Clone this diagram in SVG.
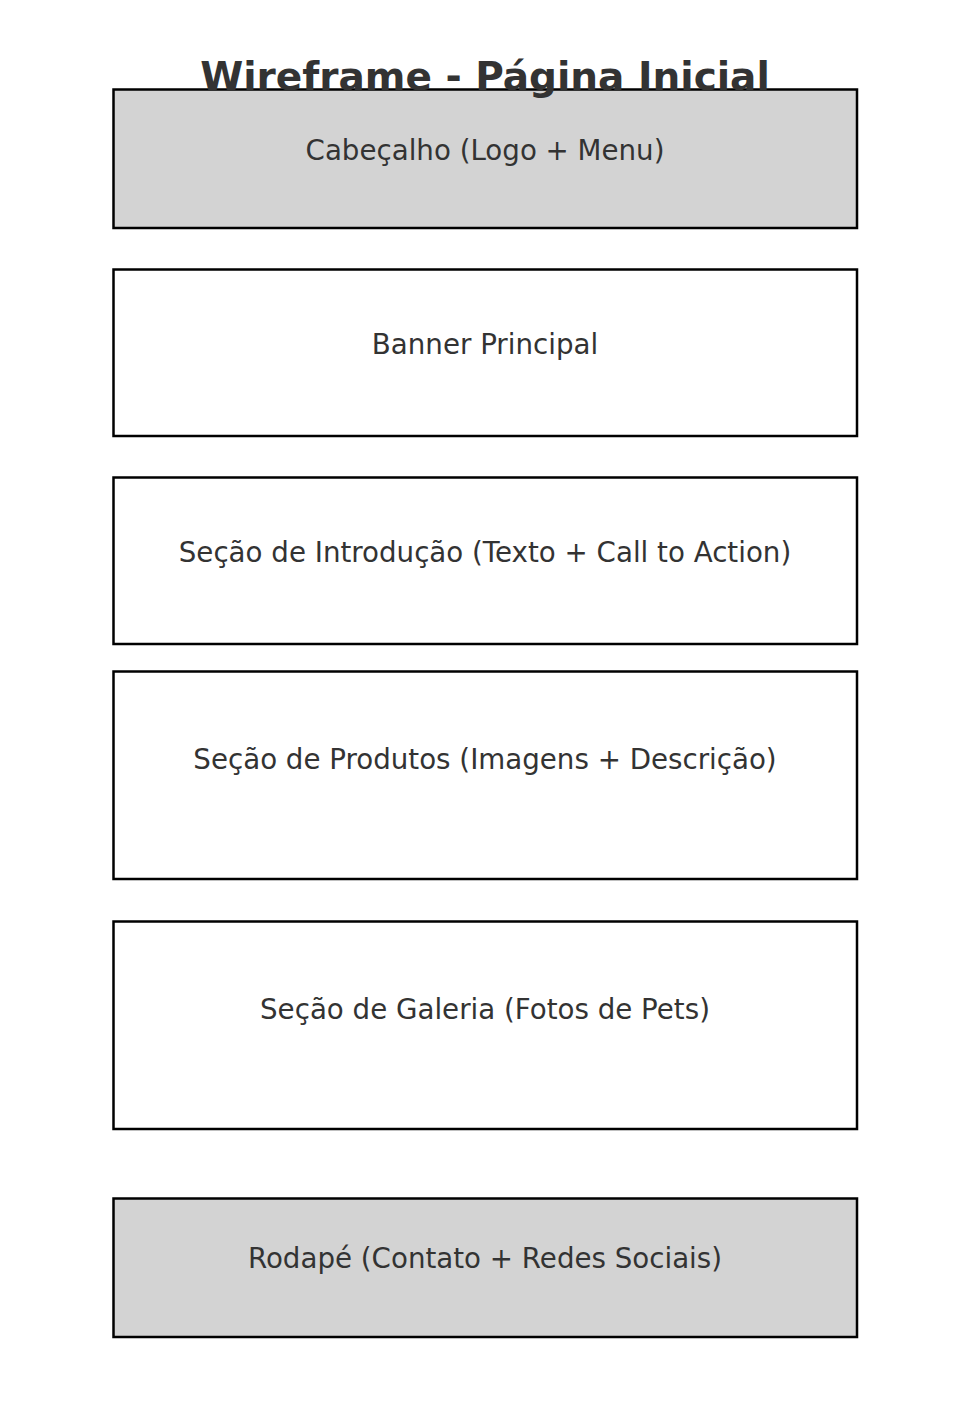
<svg xmlns="http://www.w3.org/2000/svg" width="969" height="1426" viewBox="0 0 969 1426">
<style>
.box{stroke:#000;stroke-width:2.5;fill:#fff}
.grey{fill:#d3d3d3}
.lbl{font-family:"DejaVu Sans",sans-serif;font-size:27.7px;fill:#333;text-anchor:middle}
.title{font-family:"DejaVu Sans",sans-serif;font-size:39px;font-weight:bold;fill:#333;text-anchor:middle}
</style>
<rect width="969" height="1426" fill="#fff"/>
<g id="header"><rect class="box grey" x="113.5" y="89.5" width="743.5" height="138.5"/><text class="lbl" x="485" y="160">Cabeçalho (Logo + Menu)</text></g>
<g id="banner"><rect class="box" x="113.5" y="269.5" width="743.5" height="166.5"/><text class="lbl" x="485" y="354">Banner Principal</text></g>
<g id="intro"><rect class="box" x="113.5" y="477.5" width="743.5" height="166.5"/><text class="lbl" x="485" y="562">Seção de Introdução (Texto + Call to Action)</text></g>
<g id="produtos"><rect class="box" x="113.5" y="671.5" width="743.5" height="207.5"/><text class="lbl" x="485" y="769">Seção de Produtos (Imagens + Descrição)</text></g>
<g id="galeria"><rect class="box" x="113.5" y="921.5" width="743.5" height="207.5"/><text class="lbl" x="485" y="1019">Seção de Galeria (Fotos de Pets)</text></g>
<g id="rodape"><rect class="box grey" x="113.5" y="1198.5" width="743.5" height="138.5"/><text class="lbl" x="485" y="1268">Rodapé (Contato + Redes Sociais)</text></g>
<g id="connectors"/>
<text class="title" x="485" y="90">Wireframe - Página Inicial</text>
</svg>
